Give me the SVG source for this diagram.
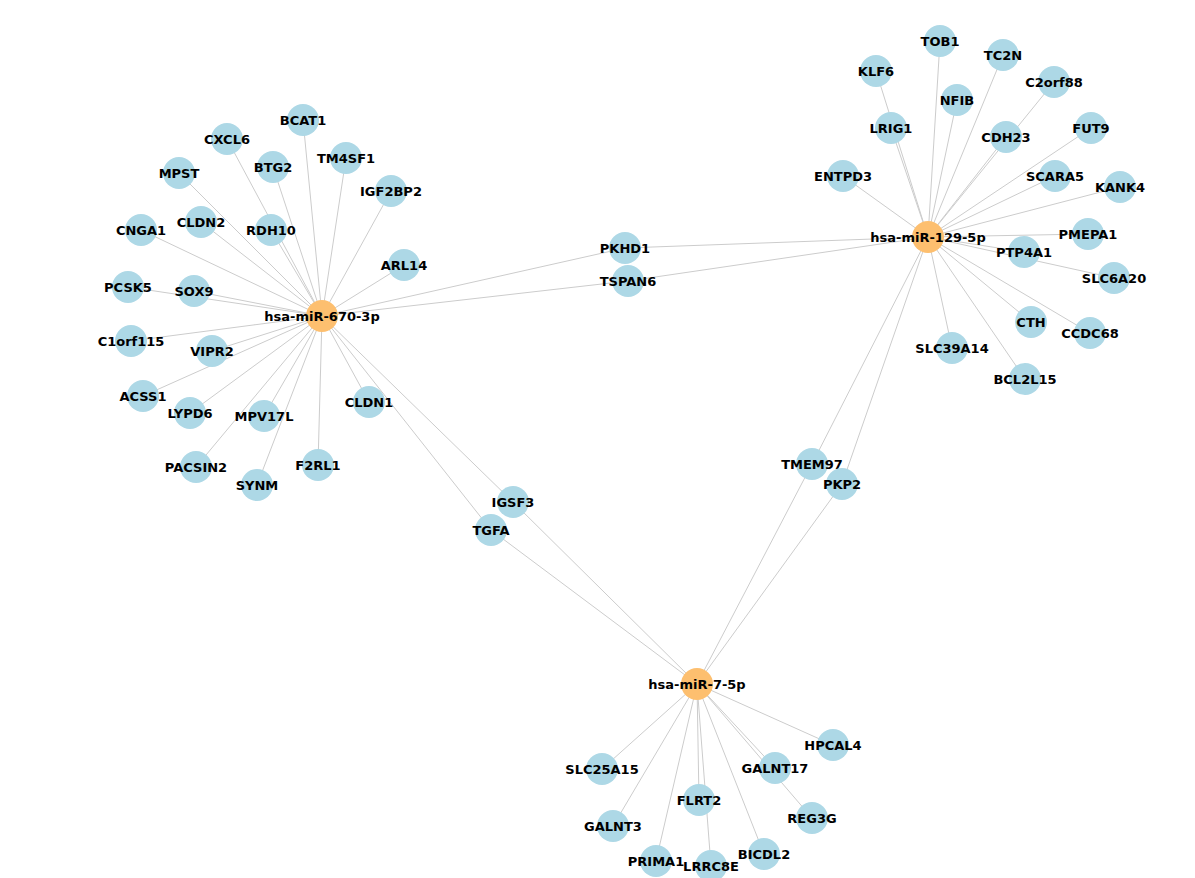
<svg xmlns="http://www.w3.org/2000/svg" width="1195" height="878" viewBox="0 0 1195 878">
<style>
.e{stroke:#cccccc;stroke-width:1}
.n circle{fill:#add8e6}
.h circle{fill:#fdbf6f}
text{font-family:"DejaVu Sans",sans-serif;font-weight:bold;font-size:13px;fill:#000;text-anchor:middle;dominant-baseline:central}
</style>
<rect width="1195" height="878" fill="#fff"/>
<g id="edges">
<path class="e" d="M322 316L303 120M322 316L227 139M322 316L273 167M322 316L346 158M322 316L179 173M322 316L391 191M322 316L201 222M322 316L271 230M322 316L141 230M322 316L404 265M322 316L128 287M322 316L194 291M322 316L131 341M322 316L212 351M322 316L143 396M322 316L190 413M322 316L264 416M322 316L369 402M322 316L196 467M322 316L257 485M322 316L318 465M322 316L625 248M322 316L628 281M322 316L513 502M322 316L491 530M928 237L625 248M928 237L628 281M697 684L513 502M697 684L491 530M928 237L812 464M928 237L842 484M697 684L812 464M697 684L842 484M928 237L940 41M928 237L1003 55M928 237L876 71M928 237L1054 82M928 237L957 100M928 237L891 128M928 237L1091 128M928 237L1006 137M928 237L843 176M928 237L1055 176M928 237L1120 187M928 237L1088 234M928 237L1024 252M928 237L1114 278M928 237L1031 322M928 237L1090 333M928 237L952 348M928 237L1025 379M697 684L833 745M697 684L775 768M697 684L602 769M697 684L699 800M697 684L812 818M697 684L613 826M697 684L764 854M697 684L656 861M697 684L711 866"/>
</g>
<g id="miR-670" class="h"><circle cx="322" cy="316" r="16"/><text x="322" y="316">hsa-miR-670-3p</text></g>
<g id="miR-129" class="h"><circle cx="928" cy="237" r="16"/><text x="928" y="237">hsa-miR-129-5p</text></g>
<g id="miR-7" class="h"><circle cx="697" cy="684" r="16"/><text x="697" y="684">hsa-miR-7-5p</text></g>
<g id="BCAT1" class="n"><circle cx="303" cy="120" r="16"/><text x="303" y="120">BCAT1</text></g>
<g id="CXCL6" class="n"><circle cx="227" cy="139" r="16"/><text x="227" y="139">CXCL6</text></g>
<g id="BTG2" class="n"><circle cx="273" cy="167" r="16"/><text x="273" y="167">BTG2</text></g>
<g id="TM4SF1" class="n"><circle cx="346" cy="158" r="16"/><text x="346" y="158">TM4SF1</text></g>
<g id="MPST" class="n"><circle cx="179" cy="173" r="16"/><text x="179" y="173">MPST</text></g>
<g id="IGF2BP2" class="n"><circle cx="391" cy="191" r="16"/><text x="391" y="191">IGF2BP2</text></g>
<g id="CLDN2" class="n"><circle cx="201" cy="222" r="16"/><text x="201" y="222">CLDN2</text></g>
<g id="RDH10" class="n"><circle cx="271" cy="230" r="16"/><text x="271" y="230">RDH10</text></g>
<g id="CNGA1" class="n"><circle cx="141" cy="230" r="16"/><text x="141" y="230">CNGA1</text></g>
<g id="ARL14" class="n"><circle cx="404" cy="265" r="16"/><text x="404" y="265">ARL14</text></g>
<g id="PCSK5" class="n"><circle cx="128" cy="287" r="16"/><text x="128" y="287">PCSK5</text></g>
<g id="SOX9" class="n"><circle cx="194" cy="291" r="16"/><text x="194" y="291">SOX9</text></g>
<g id="C1orf115" class="n"><circle cx="131" cy="341" r="16"/><text x="131" y="341">C1orf115</text></g>
<g id="VIPR2" class="n"><circle cx="212" cy="351" r="16"/><text x="212" y="351">VIPR2</text></g>
<g id="ACSS1" class="n"><circle cx="143" cy="396" r="16"/><text x="143" y="396">ACSS1</text></g>
<g id="LYPD6" class="n"><circle cx="190" cy="413" r="16"/><text x="190" y="413">LYPD6</text></g>
<g id="MPV17L" class="n"><circle cx="264" cy="416" r="16"/><text x="264" y="416">MPV17L</text></g>
<g id="CLDN1" class="n"><circle cx="369" cy="402" r="16"/><text x="369" y="402">CLDN1</text></g>
<g id="PACSIN2" class="n"><circle cx="196" cy="467" r="16"/><text x="196" y="467">PACSIN2</text></g>
<g id="SYNM" class="n"><circle cx="257" cy="485" r="16"/><text x="257" y="485">SYNM</text></g>
<g id="F2RL1" class="n"><circle cx="318" cy="465" r="16"/><text x="318" y="465">F2RL1</text></g>
<g id="PKHD1" class="n"><circle cx="625" cy="248" r="16"/><text x="625" y="248">PKHD1</text></g>
<g id="TSPAN6" class="n"><circle cx="628" cy="281" r="16"/><text x="628" y="281">TSPAN6</text></g>
<g id="IGSF3" class="n"><circle cx="513" cy="502" r="16"/><text x="513" y="502">IGSF3</text></g>
<g id="TGFA" class="n"><circle cx="491" cy="530" r="16"/><text x="491" y="530">TGFA</text></g>
<g id="TMEM97" class="n"><circle cx="812" cy="464" r="16"/><text x="812" y="464">TMEM97</text></g>
<g id="PKP2" class="n"><circle cx="842" cy="484" r="16"/><text x="842" y="484">PKP2</text></g>
<g id="TOB1" class="n"><circle cx="940" cy="41" r="16"/><text x="940" y="41">TOB1</text></g>
<g id="TC2N" class="n"><circle cx="1003" cy="55" r="16"/><text x="1003" y="55">TC2N</text></g>
<g id="KLF6" class="n"><circle cx="876" cy="71" r="16"/><text x="876" y="71">KLF6</text></g>
<g id="C2orf88" class="n"><circle cx="1054" cy="82" r="16"/><text x="1054" y="82">C2orf88</text></g>
<g id="NFIB" class="n"><circle cx="957" cy="100" r="16"/><text x="957" y="100">NFIB</text></g>
<g id="LRIG1" class="n"><circle cx="891" cy="128" r="16"/><text x="891" y="128">LRIG1</text></g>
<g id="FUT9" class="n"><circle cx="1091" cy="128" r="16"/><text x="1091" y="128">FUT9</text></g>
<g id="CDH23" class="n"><circle cx="1006" cy="137" r="16"/><text x="1006" y="137">CDH23</text></g>
<g id="ENTPD3" class="n"><circle cx="843" cy="176" r="16"/><text x="843" y="176">ENTPD3</text></g>
<g id="SCARA5" class="n"><circle cx="1055" cy="176" r="16"/><text x="1055" y="176">SCARA5</text></g>
<g id="KANK4" class="n"><circle cx="1120" cy="187" r="16"/><text x="1120" y="187">KANK4</text></g>
<g id="PMEPA1" class="n"><circle cx="1088" cy="234" r="16"/><text x="1088" y="234">PMEPA1</text></g>
<g id="PTP4A1" class="n"><circle cx="1024" cy="252" r="16"/><text x="1024" y="252">PTP4A1</text></g>
<g id="SLC6A20" class="n"><circle cx="1114" cy="278" r="16"/><text x="1114" y="278">SLC6A20</text></g>
<g id="CTH" class="n"><circle cx="1031" cy="322" r="16"/><text x="1031" y="322">CTH</text></g>
<g id="CCDC68" class="n"><circle cx="1090" cy="333" r="16"/><text x="1090" y="333">CCDC68</text></g>
<g id="SLC39A14" class="n"><circle cx="952" cy="348" r="16"/><text x="952" y="348">SLC39A14</text></g>
<g id="BCL2L15" class="n"><circle cx="1025" cy="379" r="16"/><text x="1025" y="379">BCL2L15</text></g>
<g id="HPCAL4" class="n"><circle cx="833" cy="745" r="16"/><text x="833" y="745">HPCAL4</text></g>
<g id="GALNT17" class="n"><circle cx="775" cy="768" r="16"/><text x="775" y="768">GALNT17</text></g>
<g id="SLC25A15" class="n"><circle cx="602" cy="769" r="16"/><text x="602" y="769">SLC25A15</text></g>
<g id="FLRT2" class="n"><circle cx="699" cy="800" r="16"/><text x="699" y="800">FLRT2</text></g>
<g id="REG3G" class="n"><circle cx="812" cy="818" r="16"/><text x="812" y="818">REG3G</text></g>
<g id="GALNT3" class="n"><circle cx="613" cy="826" r="16"/><text x="613" y="826">GALNT3</text></g>
<g id="BICDL2" class="n"><circle cx="764" cy="854" r="16"/><text x="764" y="854">BICDL2</text></g>
<g id="PRIMA1" class="n"><circle cx="656" cy="861" r="16"/><text x="656" y="861">PRIMA1</text></g>
<g id="LRRC8E" class="n"><circle cx="711" cy="866" r="16"/><text x="711" y="866">LRRC8E</text></g>
</svg>
